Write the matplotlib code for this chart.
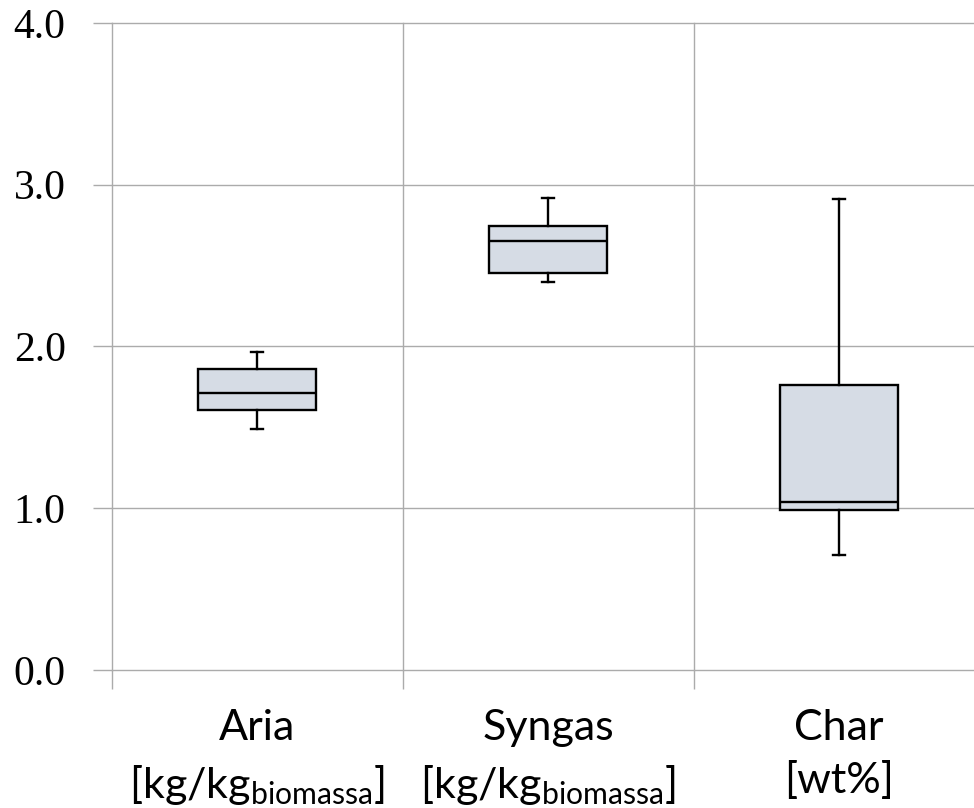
import matplotlib
matplotlib.use("Agg")
import matplotlib.pyplot as plt

plt.rcParams['mathtext.fontset'] = 'custom'
plt.rcParams['mathtext.rm'] = 'Lato'
plt.rcParams['mathtext.it'] = 'Lato:italic'
plt.rcParams['mathtext.bf'] = 'Lato:bold'

# Summary statistics per stream
categories = ["Aria\n[kg/kg$_{\\mathrm{biomassa}}$]",
              "Syngas\n[kg/kg$_{\\mathrm{biomassa}}$]",
              "Char\n[wt%]"]
whisker_low = [1.49, 2.40, 0.71]
q1 = [1.61, 2.455, 0.99]
median = [1.715, 2.655, 1.04]
q3 = [1.86, 2.745, 1.76]
whisker_high = [1.965, 2.92, 2.91]
y_ticks = [0.0, 1.0, 2.0, 3.0, 4.0]
y_tick_labels = ["0.0", "1.0", "2.0", "3.0", "4.0"]

grid_color = "#ABABAB"
fill_color = "#D6DCE5"

fig = plt.figure(figsize=(9.74, 8.08), dpi=100)
ax = fig.add_axes([111.5 / 974, (808 - 670) / 808, 873 / 974, 647 / 808])

stats = []
for lo, a, m, b, hi in zip(whisker_low, q1, median, q3, whisker_high):
    stats.append(dict(whislo=lo, q1=a, med=m, q3=b, whishi=hi, fliers=[]))

positions = list(range(1, len(categories) + 1))
ax.bxp(stats, positions=positions, widths=0.405, patch_artist=True,
       showfliers=False,
       boxprops=dict(facecolor=fill_color, edgecolor="black", linewidth=1.7),
       medianprops=dict(color="black", linewidth=1.7),
       whiskerprops=dict(color="black", linewidth=1.7),
       capprops=dict(color="black", linewidth=1.7),
       capwidths=0.04, zorder=3)

ax.set_xlim(0.5, len(categories) + 0.5)
ax.set_ylim(0, 4)

# Category separators as major ticks/gridlines, labels on minor ticks
ax.set_xticks([p - 0.5 for p in positions] + [len(categories) + 0.5])
ax.set_xticklabels([])
ax.set_xticks(positions, minor=True)
ax.set_xticklabels(categories, minor=True, fontfamily="Lato", fontsize=31,
                   linespacing=1.45)
ax.tick_params(axis="x", which="major", length=14, width=1.0, color=grid_color,
               direction="out")
ax.tick_params(axis="x", which="minor", length=0, pad=28)

ax.set_yticks(y_ticks)
ax.set_yticklabels(y_tick_labels, fontfamily="Liberation Serif", fontsize=30)
ax.tick_params(axis="y", length=14, width=1.0, color=grid_color, pad=19)

ax.grid(True, which="major", color=grid_color, linewidth=1.0, zorder=0)
for gl in ax.get_xgridlines() + ax.get_ygridlines():
    gl.set_clip_on(False)
ax.set_axisbelow(True)
for s in ax.spines.values():
    s.set_visible(False)

fig.savefig("out.png", dpi=100, facecolor="white")
